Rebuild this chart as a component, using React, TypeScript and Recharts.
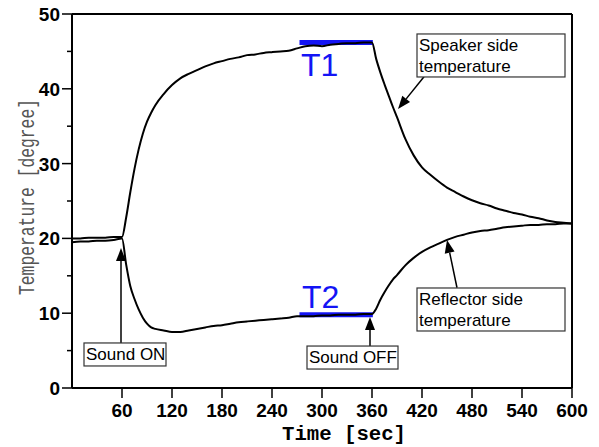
import { LineChart, Line, XAxis, YAxis, ReferenceLine, ReferenceDot } from "recharts";

// time axis (sec), finer steps around the on/off transitions
const times = [
  0, 10, 20, 30, 40, 50, 60, 65, 70, 75, 80, 85, 90, 95, 100, 110, 120, 130, 140, 150, 160, 170, 180, 190, 200,
  210, 220, 230, 240, 250, 260, 270, 280, 290, 300, 310, 320, 330, 340, 350, 360, 365, 370, 375, 380, 385, 390,
  400, 410, 420, 430, 440, 450, 460, 470, 480, 490, 500, 510, 520, 530, 540, 550, 560, 570, 580, 590, 600,
];

const speakerTemp = [
  20.0, 20.0, 20.1, 20.1, 20.1, 20.2, 20.2, 22.8, 26.2, 29.3, 31.9, 34.0, 35.6, 36.8, 37.8, 39.3, 40.5, 41.4, 42.0,
  42.5, 43.0, 43.4, 43.7, 44.0, 44.2, 44.5, 44.6, 44.8, 44.9, 45.0, 45.1, 45.4, 45.7, 45.8, 45.7, 45.9, 46.0, 46.1,
  46.1, 46.2, 46.2, 44.0, 42.2, 40.6, 39.1, 37.6, 36.2, 33.3, 31.1, 29.5, 28.5, 27.6, 26.8, 26.2, 25.6, 25.1, 24.7,
  24.4, 24.0, 23.7, 23.4, 23.2, 22.9, 22.7, 22.4, 22.2, 22.1, 22.0,
];

const reflectorTemp = [
  19.5, 19.6, 19.6, 19.7, 19.7, 19.8, 20.0, 16.5, 13.6, 11.9, 10.5, 9.4, 8.6, 8.1, 7.9, 7.7, 7.5, 7.5, 7.7, 7.9, 8.1,
  8.3, 8.4, 8.6, 8.8, 8.9, 9.0, 9.1, 9.2, 9.3, 9.4, 9.6, 9.6, 9.6, 9.7, 9.7, 9.8, 9.8, 9.8, 9.9, 9.9, 10.6, 11.8,
  12.8, 13.7, 14.5, 15.1, 16.4, 17.4, 18.2, 18.8, 19.3, 19.8, 20.2, 20.5, 20.8, 21.0, 21.1, 21.3, 21.5, 21.6, 21.7,
  21.8, 21.8, 21.9, 21.9, 22.0, 22.0,
];

const xTicks = [60, 120, 180, 240, 300, 360, 420, 480, 540, 600];
const yTicks = [0, 5, 10, 15, 20, 25, 30, 35, 40, 45, 50];

// steady-state levels marked in blue
const t1Level = 46.2;
const t2Level = 9.8;
const levelStart = 273;
const levelEnd = 361;

const data = times.map((t, i) => ({ t, speaker: speakerTemp[i], reflector: reflectorTemp[i] }));

const BLUE = "#1414f5";
const FONT = "'Liberation Sans', Arial, sans-serif";
const MONO = "'Liberation Mono', 'DejaVu Sans Mono', monospace";

const YTick = ({ x, y, payload }: any) => {
  const major = payload.value % 10 === 0;
  return (
    <g>
      <line x1={major ? x + 2 : x + 7} x2={x + 12} y1={y} y2={y} stroke="#000" strokeWidth={1.5} />
      {major && (
        <text x={x} y={y} dy={7} textAnchor="end" fontFamily={FONT} fontWeight="bold" fontSize={19} fill="#000">
          {payload.value}
        </text>
      )}
    </g>
  );
};

const XTick = ({ x, y, payload }: any) => (
  <text x={x} y={y} dy={17} textAnchor="middle" fontFamily={FONT} fontWeight="bold" fontSize={19} fill="#000">
    {payload.value}
  </text>
);

const arrow = (props: any) => {
  const { x1, y1, x2, y2 } = props;
  const ang = Math.atan2(y2 - y1, x2 - x1);
  const len = 13;
  const half = 5;
  const bx = x2 - len * Math.cos(ang);
  const by = y2 - len * Math.sin(ang);
  const px = -Math.sin(ang) * half;
  const py = Math.cos(ang) * half;
  return (
    <g>
      <line x1={x1} y1={y1} x2={bx} y2={by} stroke="#000" strokeWidth={1.5} />
      <polygon points={`${x2},${y2} ${bx + px},${by + py} ${bx - px},${by - py}`} fill="#000" />
    </g>
  );
};

const textBox = (lines: string[], w: number, h: number) => (props: any) => {
  const { cx, cy } = props;
  return (
    <g>
      <rect x={cx} y={cy} width={w} height={h} fill="#fff" stroke="#333" strokeWidth={1.2} />
      {lines.map((l, i) => (
        <text key={i} x={cx + 2} y={cy + 17 + i * 21} fontFamily={FONT} fontSize={17} fill="#000">
          {l}
        </text>
      ))}
    </g>
  );
};

const blueLabel = (label: string) => (props: any) => (
  <text x={props.cx} y={props.cy} fontFamily={FONT} fontSize={32} fill={BLUE}>
    {label}
  </text>
);

export default function App() {
  return (
    <div style={{ position: "absolute", left: 0, top: 0, background: "#fff" }}>
      <LineChart width={599} height={447} data={data} margin={{ top: 14, right: 27, bottom: 0, left: 0 }}>
        <XAxis
          dataKey="t"
          type="number"
          domain={[0, 600]}
          ticks={xTicks}
          tickSize={10}
          tick={<XTick />}
          height={59}
          stroke="#000"
          axisLine={{ stroke: "#000", strokeWidth: 2 }}
          tickLine={{ stroke: "#000", strokeWidth: 1.5 }}
          label={{
            content: () => (
              <text
                x={344}
                y={440}
                textAnchor="middle"
                fontFamily={MONO}
                fontWeight="bold"
                fontSize={20}
                textLength={124}
                lengthAdjust="spacingAndGlyphs"
                fill="#000"
              >
                Time [sec]
              </text>
            ),
          }}
        />
        <YAxis
          type="number"
          domain={[0, 50]}
          ticks={yTicks}
          width={72}
          tickSize={10}
          tickMargin={2}
          tickLine={false}
          tick={<YTick />}
          interval={0}
          axisLine={{ stroke: "#000", strokeWidth: 2 }}
          label={{
            content: () => (
              <text
                x={34}
                y={197}
                transform="rotate(-90 34 197)"
                textAnchor="middle"
                fontFamily={MONO}
                fontSize={22}
                textLength={196}
                lengthAdjust="spacingAndGlyphs"
                fill="#555"
              >
                Temperature [degree]
              </text>
            ),
          }}
        />
        <ReferenceLine y={50} stroke="#000" strokeWidth={2} />
        <ReferenceLine x={600} stroke="#000" strokeWidth={2} />

        <ReferenceLine
          segment={[{ x: levelStart, y: t1Level }, { x: levelEnd, y: t1Level }]}
          stroke={BLUE}
          strokeWidth={5}
        />
        <ReferenceLine
          segment={[{ x: levelStart, y: t2Level }, { x: levelEnd, y: t2Level }]}
          stroke={BLUE}
          strokeWidth={5}
        />

        <Line dataKey="speaker" type="monotone" stroke="#000" strokeWidth={2} dot={false} isAnimationActive={false} />
        <Line dataKey="reflector" type="monotone" stroke="#000" strokeWidth={2} dot={false} isAnimationActive={false} />

        <ReferenceDot x={274.8} y={41.7} shape={blueLabel("T1")} />
        <ReferenceDot x={276} y={10.7} shape={blueLabel("T2")} />

        <ReferenceLine segment={[{ x: 422.4, y: 41.6 }, { x: 391.2, y: 37.3 }]} shape={arrow} />
        <ReferenceLine segment={[{ x: 462, y: 13.4 }, { x: 450, y: 19.8 }]} shape={arrow} />
        <ReferenceLine segment={[{ x: 58.8, y: 6.0 }, { x: 58.8, y: 18.7 }]} shape={arrow} />
        <ReferenceLine segment={[{ x: 357.6, y: 5.6 }, { x: 357.6, y: 9.5 }]} shape={arrow} />

        <ReferenceDot x={414} y={47.33} shape={textBox(["Speaker side", "temperature"], 148, 43)} />
        <ReferenceDot x={414} y={13.37} shape={textBox(["Reflector side", "temperature"], 148, 43)} />
        <ReferenceDot x={14.4} y={6.02} shape={textBox(["Sound ON"], 82, 23)} />
        <ReferenceDot x={282} y={5.61} shape={textBox(["Sound OFF"], 91, 23)} />
      </LineChart>
    </div>
  );
}
